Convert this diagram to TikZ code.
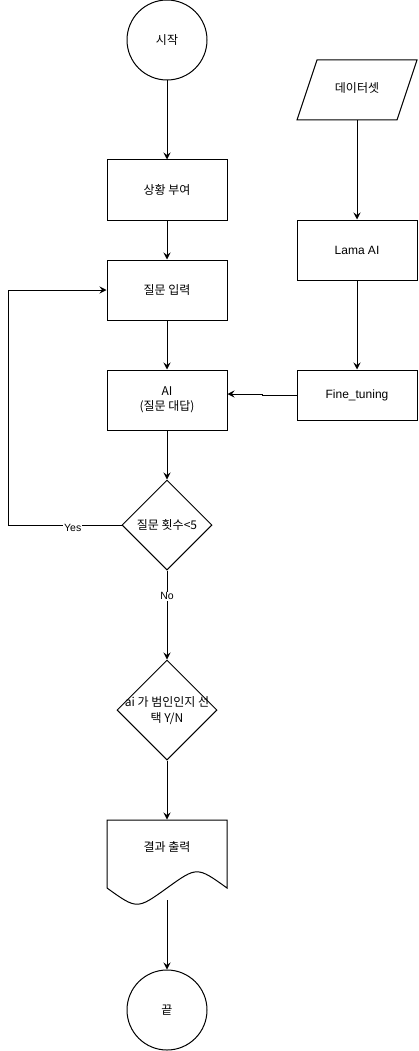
\documentclass[tikz,border=0pt]{standalone}
\usepackage{fontspec}
\setmainfont{Liberation Sans}
\newfontfamily\kr{Noto Sans CJK KR}
\usetikzlibrary{arrows.meta,shapes.geometric}

\begin{document}
\begin{tikzpicture}[x=1pt,y=-1pt,line width=1pt,
  txt/.style={font=\kr\fontsize{12pt}{15pt}\selectfont,align=center,inner sep=0pt},
  box/.style={draw,rectangle,minimum width=120pt,minimum height=60pt,inner sep=0pt,txt},
  term/.style={draw,circle,minimum size=80pt,inner sep=0pt,txt},
  dia/.style={draw,diamond,inner sep=0pt},
  ghost/.style={rectangle,inner sep=0pt},
  lbl/.style={fill=white,inner sep=1pt,font=\fontsize{10.5pt}{12pt}\selectfont},
  arr/.style={-{Stealth[length=7pt,width=7pt,inset=2.5pt]}}]
\useasboundingbox (0,0) rectangle (418,1051);

% main column
\node[term] (start) at (167,40) {시작};
\node[box] (ctx) at (167,190) {상황 부여};
\node[box] (ask) at (167,290) {질문 입력};
\node[box] (ai) at (167,400) {AI\\(질문 대답)};
\node[dia,minimum width=90pt,minimum height=90pt] (cnt) at (167,525) {};
\node[txt] at (cnt) {질문 횟수<5};
\node[dia,minimum width=100pt,minimum height=100pt] (pick) at (167,710) {};
\node[txt,font=\kr\fontsize{12pt}{16pt}\selectfont] at (167,711) {ai 가 범인인지 선\\택 Y/N};

% output document with wavy bottom
\node[ghost,minimum width=120pt,minimum height=80pt] (doc) at (167,860) {};
\draw (107,820) -- (227,820) -- (227,888)
  .. controls (197,866.4) .. (167,888)
  .. controls (137,909.6) .. (107,888) -- cycle;
\node[txt] at (167,847) {결과 출력};
\coordinate (docbot) at (167,900);
\node[term] (end) at (167,1010) {끝};

% data column
\node[ghost,minimum width=120pt,minimum height=60pt] (data) at (357,90) {};
\draw (317,60) -- (417,60) -- (397,120) -- (297,120) -- cycle;
\node[txt] at (357,88) {데이터셋};
\node[box,font=\fontsize{12pt}{15pt}\selectfont] (lama) at (357,250) {Lama AI};
\node[box,minimum height=50pt,font=\fontsize{12pt}{15pt}\selectfont] (ft) at (357,395) {Fine\_tuning};

% connectors
\draw[arr] (start) -- (ctx);
\draw[arr] (ctx) -- (ask);
\draw[arr] (ask) -- (ai);
\draw[arr] (ai) -- (cnt);
\draw[arr] (cnt) -- node[lbl,pos=0.29] {No} (pick);
\draw[arr] (pick) -- (doc);
\draw[arr] (docbot) -- (end);
\coordinate (loop) at (8,525);
\draw[arr] (cnt.west) -- node[lbl,pos=0.43,yshift=-3pt] {Yes} (loop) |- (ask.west);
\draw[arr] (data) -- (lama);
\draw[arr] (lama) -- (ft);
\coordinate (jog) at (262,395);
\draw[arr] (ft.west) -- (jog) |- ([yshift=6pt]ai.east);
\end{tikzpicture}
\end{document}
